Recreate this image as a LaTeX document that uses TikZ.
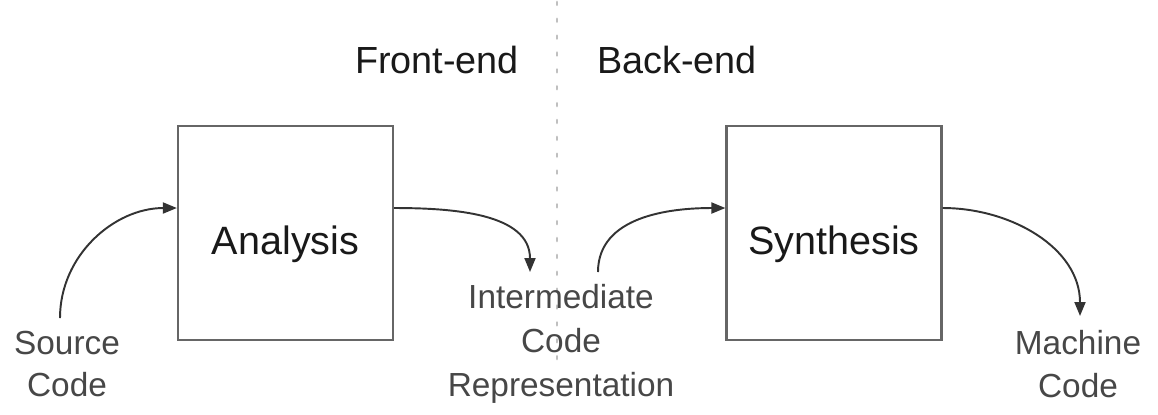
\documentclass[tikz,border=0pt]{standalone}
\usepackage{fontspec}
\setmainfont{Liberation Sans}
\usetikzlibrary{arrows.meta}
\begin{document}
\begin{tikzpicture}[x=0.02cm,y=-0.02cm,
  stagebox/.style={draw=black!60,line width=1.3pt,minimum width=4.3cm,minimum height=4.28cm,inner sep=0pt,text height=0.84cm,text depth=0cm,font=\fontsize{22.5pt}{27pt}\selectfont,text=black!90},
  lbl/.style={align=center,inner sep=0pt,font=\fontsize{19pt}{24pt}\selectfont,text=black!72},
  irlbl/.style={lbl,font=\fontsize{19pt}{25pt}\selectfont},
  hdr/.style={inner sep=0pt,font=\fontsize{21.5pt}{26pt}\selectfont,text=black!90},
  flow/.style={draw=black!80,line width=1.1pt,-{Triangle[length=0.28cm,width=0.22cm]}},
  divider/.style={draw=black!25,line width=1.6pt,dash pattern=on 1.6pt off 8pt,line cap=round}]
\useasboundingbox (0,0) rectangle (1158,414);
\coordinate (dtop) at (557,2);
\coordinate (dbot) at (557,365);
\draw[divider] (dtop) -- (dbot);
\node[hdr] (fe) at (437,60) {Front-end};
\node[hdr] (be) at (677,60) {Back-end};
\node[stagebox,fill=white] (ana) at (285.5,233) {Analysis};
\node[stagebox,fill=white] (syn) at (834,233) {Synthesis};
\node[lbl] (src) at (67,364) {Source\\Code};
\node[irlbl] (ir) at (561,344) {Intermediate\\Code\\Representation};
\node[lbl] (mc) at (1078,364) {Machine\\Code};
\coordinate (s0) at (60,318);
\coordinate (i1) at (530,272);
\coordinate (i2) at (598,272);
\coordinate (m1) at (1080,316);
\draw[flow] (s0) to[out=90,in=180] ([yshift=0.5cm]ana.west);
\draw[flow] ([yshift=0.5cm]ana.east) to[out=0,in=90] (i1);
\draw[flow] (i2) to[out=90,in=180] ([yshift=0.5cm]syn.west);
\draw[flow] ([yshift=0.5cm]syn.east) to[out=0,in=90] (m1);
\end{tikzpicture}
\end{document}
